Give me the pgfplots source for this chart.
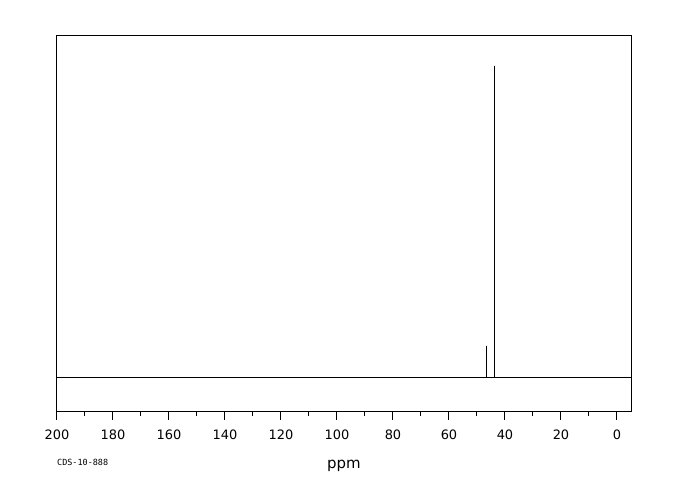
\documentclass[border=0pt]{standalone}
\usepackage{pgfplots}
\pgfplotsset{compat=1.18}
\usepackage{fontspec}
\setmainfont{DejaVu Sans}
\newfontfamily\monofont{DejaVu Sans Mono}
\begin{document}
\begin{tikzpicture}
\begin{axis}[
    scale only axis,
    width=574bp, height=375bp,
    x dir=reverse,
    xmin=-5, xmax=200,
    ymin=-10.58, ymax=109.6,
    xtick={0,20,...,200},
    minor xtick={10,30,...,190},
    ytick=\empty,
    axis line style={line width=1bp},
    tick style={line width=1bp, black},
    xtick pos=bottom,
    tick align=outside,
    major tick length=9bp,
    minor tick length=5bp,
    xticklabel style={font=\fontsize{13}{13}\selectfont, yshift=-6bp},
    /pgf/number format/assume math mode=true,
    xlabel={ppm},
    xlabel style={font=\fontsize{15}{15}\selectfont, yshift=-14bp},
    clip=false,
]
\addplot[black, line width=1bp] coordinates {
    (200,0) (46.6,0) (46.6,10.3) (46.6,0) (43.8,0) (43.8,100) (43.8,0) (-5,0)
};
\end{axis}
\node[anchor=west, inner sep=0pt, font=\monofont\fontsize{8.5}{8.5}\selectfont] at ([yshift=-51bp]current axis.south west) {CDS-10-888};
\path ([shift={(-57bp,-89bp)}]current axis.south west) rectangle ([shift={(49bp,36bp)}]current axis.north east);
\end{tikzpicture}
\end{document}
